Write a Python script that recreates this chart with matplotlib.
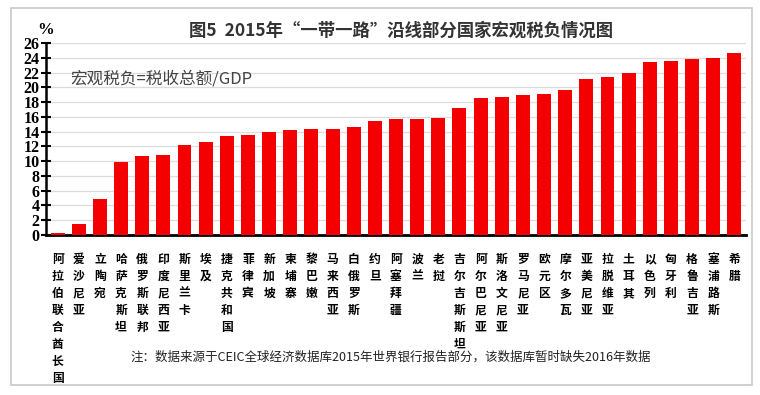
import matplotlib.pyplot as plt
from matplotlib.patches import Rectangle

plt.rcParams['font.family'] = ['Noto Sans CJK SC', 'DejaVu Sans']

countries = ['阿拉伯联合酋长国', '爱沙尼亚', '立陶宛', '哈萨克斯坦', '俄罗斯联邦', '印度尼西亚',
             '斯里兰卡', '埃及', '捷克共和国', '菲律宾', '新加坡', '柬埔寨', '黎巴嫩', '马来西亚',
             '白俄罗斯', '约旦', '阿塞拜疆', '波兰', '老挝', '吉尔吉斯斯坦', '阿尔巴尼亚',
             '斯洛文尼亚', '罗马尼亚', '欧元区', '摩尔多瓦', '亚美尼亚', '拉脱维亚', '土耳其',
             '以色列', '匈牙利', '格鲁吉亚', '塞浦路斯', '希腊']
tax_burden = [0.3, 1.45, 4.9, 9.9, 10.7, 10.9, 12.2, 12.6, 13.4, 13.6, 13.9, 14.2, 14.4, 14.4,
              14.6, 15.4, 15.7, 15.7, 15.9, 17.2, 18.6, 18.7, 18.9, 19.05, 19.7, 21.1, 21.4,
              22.0, 23.4, 23.55, 23.8, 24.0, 24.7]
yticks = list(range(0, 27, 2))

fig = plt.figure(figsize=(7.6, 3.95), dpi=100)
fig.patches.append(Rectangle((11 / 760, 1 - 385 / 395), 741 / 760, 377 / 395,
                             transform=fig.transFigure, fill=False,
                             edgecolor='#c8c8c8', linewidth=1.2))

ax = fig.add_axes([46 / 760, 1 - 235 / 395, 700 / 760, 192 / 395])
x = range(len(countries))
ax.bar(x, tax_burden, width=0.66, color='#f40000', zorder=3)
ax.set_xlim(-0.55, len(countries) - 0.45)
ax.set_ylim(0, 26)
ax.set_yticks(yticks)
ax.set_yticklabels([str(v) for v in yticks], family='Liberation Serif',
                   fontweight='bold', fontsize=11.5)
ax.tick_params(axis='y', direction='inout', length=7, width=1.5, pad=1)
ax.yaxis.grid(True, color='#dcdcdc', linewidth=0.9, zorder=0)
ax.set_xticks(list(x))
ax.set_xticklabels(['\n'.join(c) for c in countries], fontsize=8.5,
                   fontweight='bold', linespacing=1.4, va='top')
ax.tick_params(axis='x', length=0, pad=13)
for s in ['top', 'right']:
    ax.spines[s].set_visible(False)
ax.spines['left'].set_linewidth(1.8)
ax.spines['bottom'].set_linewidth(2.0)

fig.text(46 / 760, 1 - 30 / 395, '%', family='Liberation Serif', fontweight='bold',
         fontsize=12, ha='center', va='center')
fig.text(401 / 760, 1 - 31 / 395, '图5  2015年“一带一路”沿线部分国家宏观税负情况图',
         fontsize=12.5, fontweight='bold', color='#333333', ha='center', va='center')
fig.text(70 / 760, 1 - 79 / 395, '宏观税负=税收总额/GDP', fontsize=12,
         color='#444444', ha='left', va='center')
fig.text(391 / 760, 1 - 357 / 395,
         '注：数据来源于CEIC全球经济数据库2015年世界银行报告部分，该数据库暂时缺失2016年数据',
         fontsize=9, color='#222222', ha='center', va='center')

fig.savefig('out.png', dpi=100)
